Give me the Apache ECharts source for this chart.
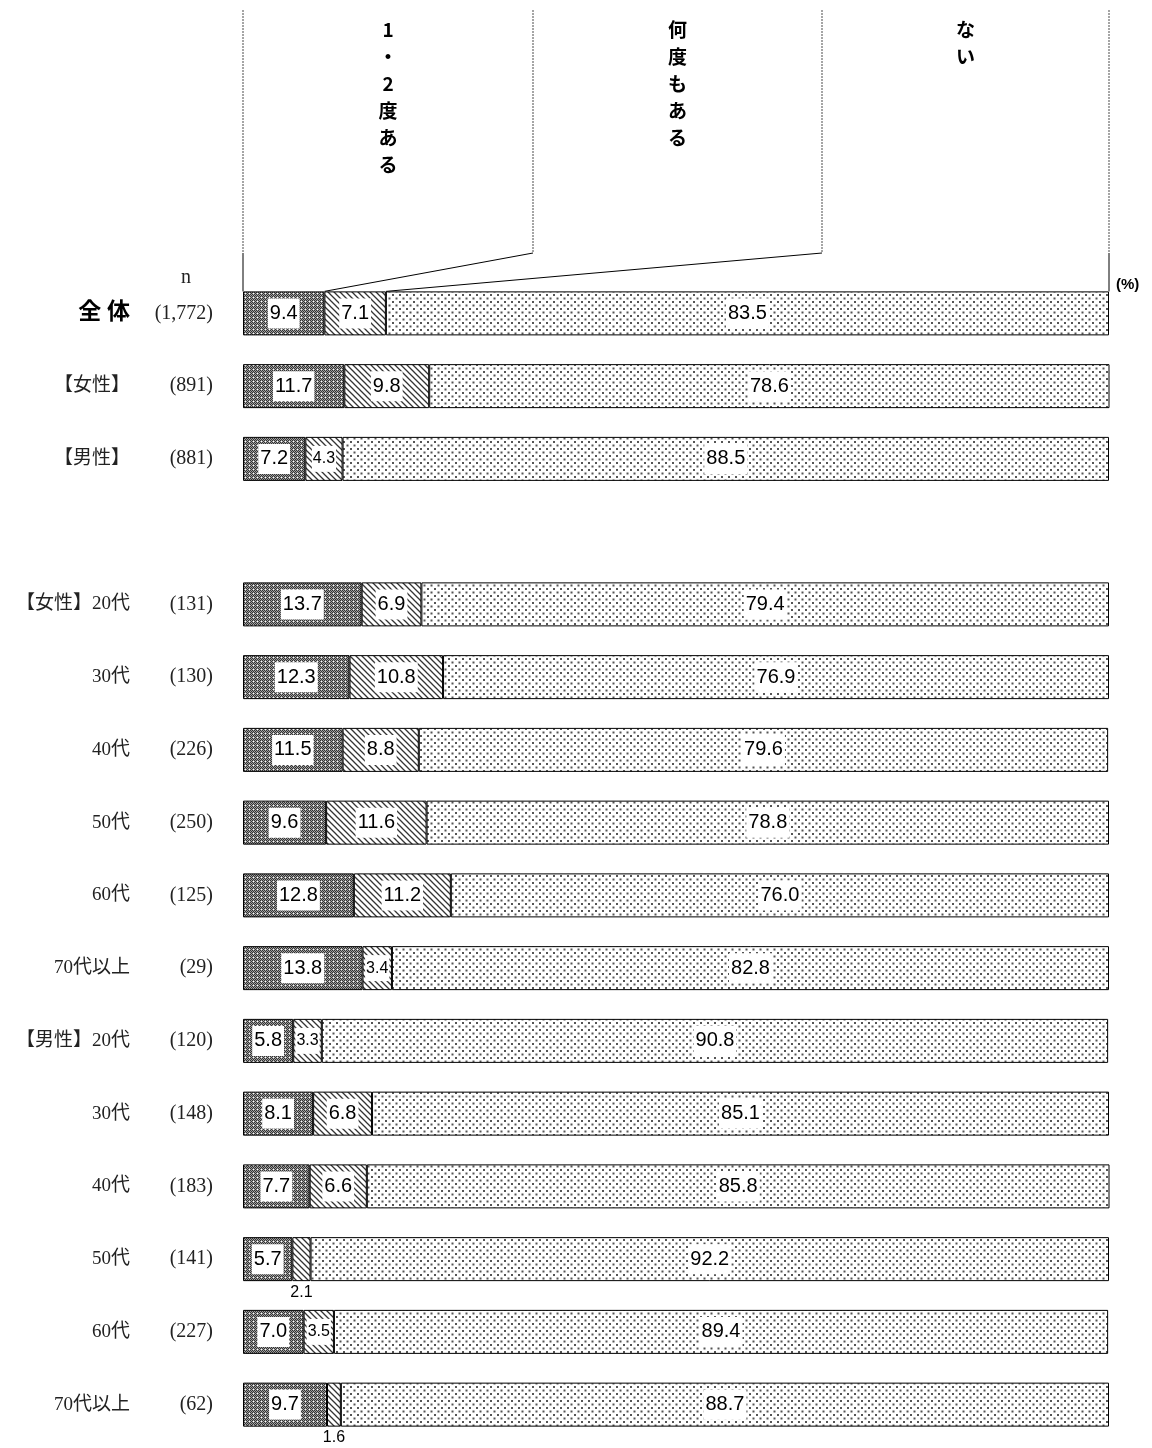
<!DOCTYPE html>
<html>
<head>
<meta charset="utf-8">
<script src="https://cdn.jsdelivr.net/npm/echarts@6/dist/echarts.min.js"></script>
<style>
  html, body { margin: 0; padding: 0; background: #fff; }
  #chart { width: 1152px; height: 1448px; }
</style>
</head>
<body>
<div id="chart"></div>
<script>
// 区分と回答数
const groups = ['全 体', '【女性】', '【男性】', '', '【女性】20代', '30代', '40代', '50代', '60代', '70代以上',
                '【男性】20代', '30代', '40代', '50代', '60代', '70代以上'];
const counts = ['(1,772)', '(891)', '(881)', '', '(131)', '(130)', '(226)', '(250)', '(125)', '(29)',
                '(120)', '(148)', '(183)', '(141)', '(227)', '(62)'];
const seriesNames = ['1・2度ある', '何度もある', 'ない'];

// 回答割合 (%)
const onceTwice = [9.4, 11.7, 7.2, null, 13.7, 12.3, 11.5, 9.6, 12.8, 13.8, 5.8, 8.1, 7.7, 5.7, 7.0, 9.7];
const manyTimes = [7.1, 9.8, 4.3, null, 6.9, 10.8, 8.8, 11.6, 11.2, 3.4, 3.3, 6.8, 6.6, 2.1, 3.5, 1.6];
const never     = [83.5, 78.6, 88.5, null, 79.4, 76.9, 79.6, 78.8, 76.0, 82.8, 90.8, 85.1, 85.8, 92.2, 89.4, 88.7];

function makePattern(kind) {
    const c = document.createElement('canvas');
    const ctx = c.getContext('2d');
    if (kind === 'dark') {
        c.width = 4; c.height = 4;
        ctx.fillStyle = '#a0a0a0';
        ctx.fillRect(0, 0, 4, 4);
        ctx.fillStyle = '#333';
        ctx.fillRect(0, 0, 1, 1); ctx.fillRect(2, 0, 1, 1);
        ctx.fillRect(1, 1, 1, 1); ctx.fillRect(3, 1, 1, 1);
        ctx.fillRect(0, 2, 1, 1); ctx.fillRect(2, 2, 1, 1);
        ctx.fillRect(1, 3, 1, 1); ctx.fillRect(3, 3, 1, 1);
        ctx.fillStyle = '#ffffff';
        ctx.fillRect(1, 1, 1, 1);
    } else if (kind === 'stripe') {
        c.width = 6; c.height = 6;
        ctx.fillStyle = '#ffffff';
        ctx.fillRect(0, 0, 6, 6);
        ctx.strokeStyle = '#333';
        ctx.lineWidth = 1.3;
        ctx.beginPath();
        ctx.moveTo(-1, -1); ctx.lineTo(7, 7);
        ctx.moveTo(-4, 2); ctx.lineTo(4, 10);
        ctx.moveTo(2, -4); ctx.lineTo(10, 4);
        ctx.stroke();
    } else {
        c.width = 7; c.height = 7;
        ctx.fillStyle = '#ffffff';
        ctx.fillRect(0, 0, 7, 7);
        ctx.fillStyle = '#555';
        ctx.fillRect(0, 0, 2, 2);
        ctx.fillRect(3.5, 3.5, 2, 2);
    }
    return { image: c, repeat: 'repeat' };
}

const patterns = [makePattern('dark'), makePattern('stripe'), makePattern('dots')];
const values = [onceTwice, manyTimes, never];

function buildData(arr) {
    return arr.map(v => {
        if (v === null) return '-';
        const item = { value: v };
        if (v < 3) {
            item.label = { position: 'bottom', distance: 1, fontSize: 16, padding: [1, 1], lineHeight: 18 };
        } else if (v < 5) {
            item.label = { fontSize: 16, padding: [4, 1], lineHeight: 18 };
        }
        return item;
    });
}

const chart = echarts.init(document.getElementById('chart'));

const option = {
    animation: false,
    grid: { left: 243, right: 43, top: 277, height: 1164, containLabel: false },
    xAxis: { type: 'value', min: 0, max: 100, show: false },
    yAxis: {
        type: 'category',
        inverse: true,
        data: groups.map((g, i) => String(i)),
        axisLine: { show: false },
        axisTick: { show: false },
        axisLabel: {
            margin: 30,
            formatter: (val, i) => {
                if (!groups[i]) return '';
                const nameStyle = i === 0 ? 'bold' : 'name';
                return '{' + nameStyle + '|' + groups[i] + '}{n|' + counts[i] + '}';
            },
            rich: {
                name: { fontFamily: '"Liberation Serif", "Noto Sans CJK JP"', fontSize: 19, color: '#222', width: 130, align: 'right' },
                bold: { fontFamily: '"Liberation Serif", "Noto Sans CJK JP"', fontSize: 23, fontWeight: 'bold', color: '#000', width: 130, align: 'right' },
                n: { fontFamily: '"Liberation Serif", "Noto Sans CJK JP"', fontSize: 20, color: '#222', width: 83, align: 'right' }
            }
        }
    },
    series: seriesNames.map((name, k) => ({
        name: name,
        type: 'bar',
        stack: 'total',
        barWidth: 44,
        data: buildData(values[k]),
        itemStyle: { color: patterns[k], borderColor: '#000', borderWidth: 1 },
        label: {
            show: true,
            position: 'inside',
            formatter: p => p.value.toFixed(1),
            fontFamily: '"Liberation Sans", Arial',
            fontSize: 20,
            color: '#000',
            backgroundColor: '#fff',
            padding: [4, 2],
            lineHeight: 22
        }
    }))
};

chart.setOption(option);

// 見出し部分
const top0 = chart.convertToPixel({ gridIndex: 0 }, [0, 0]);
const barTop = top0[1] - 22;
const xLeft = top0[0];
const xRight = chart.convertToPixel({ gridIndex: 0 }, [100, 0])[0];
const xB1 = chart.convertToPixel({ gridIndex: 0 }, [onceTwice[0], 0])[0];
const xB2 = chart.convertToPixel({ gridIndex: 0 }, [onceTwice[0] + manyTimes[0], 0])[0];
const col1 = 533, col2 = 822, lineTop = 10, lineBottom = 253;
const dashed = { stroke: '#888', lineWidth: 1.5, lineDash: [2, 1] };
const solid = { stroke: '#000', lineWidth: 1 };
const headFont = 'bold 19px "Noto Sans CJK JP"';
const centers = [(xLeft + col1) / 2, (col1 + col2) / 2, (col2 + xRight) / 2];

const graphics = [
    { type: 'line', shape: { x1: xLeft, y1: lineTop, x2: xLeft, y2: lineBottom }, style: dashed },
    { type: 'line', shape: { x1: col1, y1: lineTop, x2: col1, y2: lineBottom }, style: dashed },
    { type: 'line', shape: { x1: col2, y1: lineTop, x2: col2, y2: lineBottom }, style: dashed },
    { type: 'line', shape: { x1: xRight, y1: lineTop, x2: xRight, y2: lineBottom }, style: dashed },
    { type: 'line', shape: { x1: xLeft, y1: lineBottom, x2: xLeft, y2: barTop }, style: solid },
    { type: 'line', shape: { x1: xRight, y1: lineBottom, x2: xRight, y2: barTop }, style: solid },
    { type: 'line', shape: { x1: col1, y1: lineBottom, x2: xB1, y2: barTop }, style: solid },
    { type: 'line', shape: { x1: col2, y1: lineBottom, x2: xB2, y2: barTop }, style: solid },
    { type: 'text', left: 181, top: 268, style: { text: 'n', font: '20px "Liberation Serif"', fill: '#222' } },
    { type: 'text', left: 1116, top: 277, style: { text: '(%)', font: 'bold 15px "Liberation Sans"', fill: '#000' } }
];
seriesNames.forEach((name, k) => {
    graphics.push({
        type: 'text',
        x: centers[k],
        y: 16,
        style: {
            text: Array.from(name).join('\n'),
            font: headFont,
            fill: '#000',
            align: 'center',
            verticalAlign: 'top',
            lineHeight: 27
        }
    });
});
chart.setOption({ graphic: graphics });
</script>
</body>
</html>
